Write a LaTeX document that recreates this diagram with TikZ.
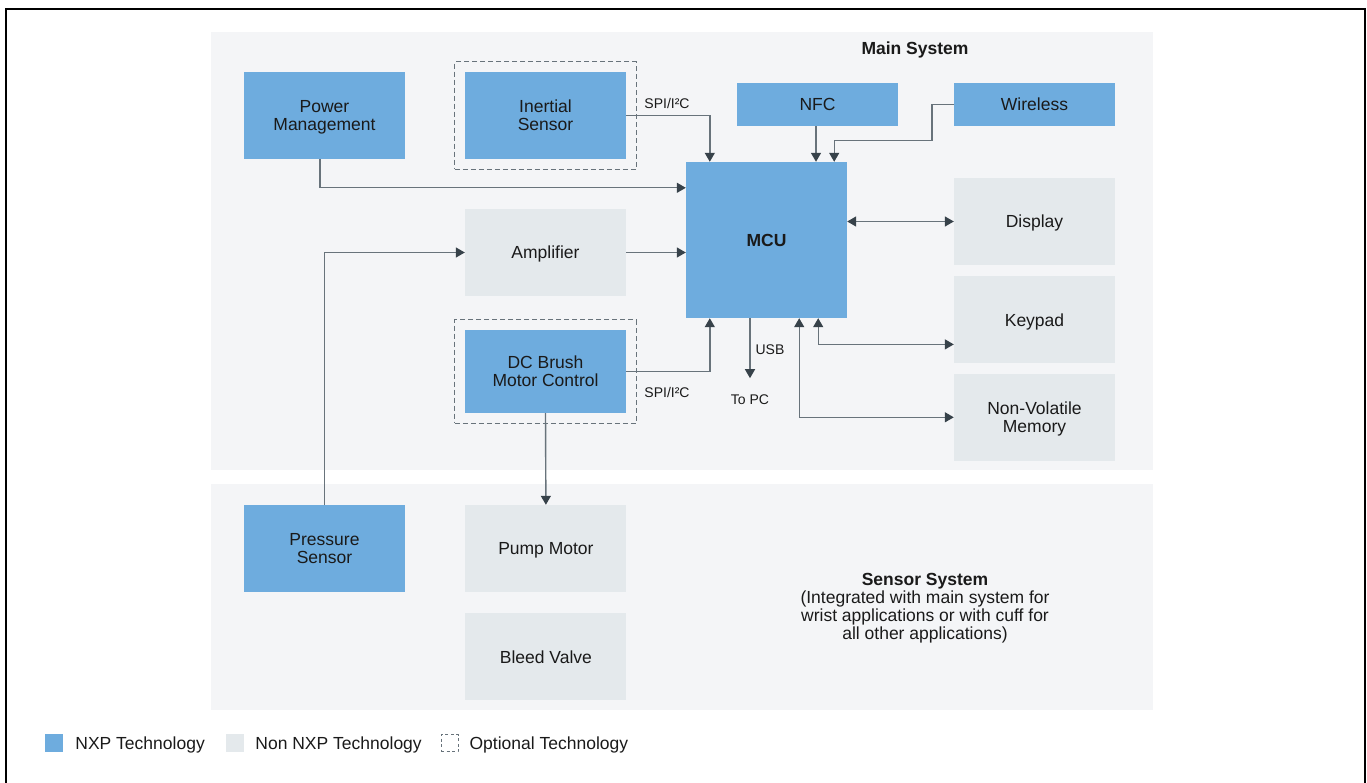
\documentclass[tikz,border=0pt]{standalone}
\usepackage{fontspec}
\setmainfont{Liberation Sans}
\usetikzlibrary{arrows.meta,positioning,fit}
\definecolor{nxpblue}{HTML}{6EACDE}
\definecolor{nonnxp}{HTML}{E4E9EC}
\definecolor{panelgray}{HTML}{F4F5F7}
\definecolor{linkgray}{HTML}{68737B}
\definecolor{tipgray}{HTML}{37424A}
\definecolor{textdark}{HTML}{1A1A1A}

\begin{document}
\begin{tikzpicture}[x=1pt,y=-1pt,font=\fontsize{17.5}{18}\selectfont,text=textdark]
            \tikzstyle{block}=[minimum width=161pt, minimum height=87pt, inner sep=0pt, align=center, text depth=0pt]
            \tikzstyle{nxp}=[block, fill=nxpblue]
            \tikzstyle{nonnxp}=[block, fill=nonnxp]
            \tikzstyle{optional}=[draw=linkgray, thick, dash pattern=on 5pt off 3pt, inner sep=10pt]
            \tikzstyle{link}=[linkgray, line width=1.4pt, -{Triangle[length=9pt,width=10pt,color=tipgray]}]
            \tikzstyle{both}=[link, {Triangle[length=9pt,width=10pt,color=tipgray]}-{Triangle[length=9pt,width=10pt,color=tipgray]}]
            \tikzstyle{small}=[font=\fontsize{14}{16}\selectfont, inner sep=0pt]
            \tikzstyle{legtext}=[inner sep=0pt, anchor=west, text depth=0pt]

            \useasboundingbox (0,0) rectangle (1367,783);
            \draw[line width=2pt] (6,783) -- (6,9) -- (1365,9) -- (1365,783);

            % panels
            \fill[panelgray] (211,32) rectangle (1153,470);
            \fill[panelgray] (211,484) rectangle (1153,710);
            \node[font=\fontsize{17.5}{18}\selectfont\bfseries, text depth=0pt] (mainsys) at (915,48) {Main System};

            % main system
            \node[nxp] (power) at (324.5,115.5) {Power\\Management};
            \node[nxp] (inertial) at (545.5,115.5) {Inertial\\Sensor};
            \node[nxp, minimum height=43pt] (nfc) at (817.5,104.5) {NFC};
            \node[nxp, minimum height=43pt] (wireless) at (1034.5,104.5) {Wireless};
            \node[nxp, minimum height=156pt, font=\fontsize{17.5}{18}\selectfont\bfseries] (mcu) at (766.5,240) {MCU};
            \node[nonnxp] (display) at (1034.5,221.5) {Display};
            \node[nonnxp, below=11pt of display] (keypad) {Keypad};
            \node[nonnxp, below=10pt of keypad] (nvm) {Non-Volatile\\Memory};
            \node[nonnxp] (amp) at (545.5,252.5) {Amplifier};
            \node[nxp, minimum height=83pt] (dcbrush) at (545.5,371.5) {DC Brush\\Motor Control};

            \node[optional, fit=(inertial)] (optinertial) {};
            \node[optional, fit=(dcbrush)] (optdcbrush) {};

            % sensor system
            \node[nxp] (pressure) at (324.5,548.5) {Pressure\\Sensor};
            \node[nonnxp, right=60pt of pressure] (pump) {Pump Motor};
            \node[nonnxp, below=21pt of pump] (bleed) {Bleed Valve};
            \node[align=center, text depth=0pt] (sensorsys) at (925,606.5) {\textbf{Sensor System}\\(Integrated with main system for\\wrist applications or with cuff for\\all other applications)};

            % connections
            \draw[link] (inertial.east) -| ([xshift=24pt]mcu.north west);
            \node[small] (spi1) at (667,103) {SPI/I²C};
            \draw[link] ([xshift=-1.5pt]nfc.south) -- ([xshift=-1.5pt]nfc.south |- mcu.north);
            \draw[link] (wireless.west) -- ++(-22,0) -- ++(0,36) -| ([xshift=-13pt]mcu.north east);
            \draw[link] ([xshift=-4.5pt]power.south) |- ([yshift=-26pt]mcu.north west);
            \draw[link] (amp.east) -- (amp.east -| mcu.west);
            \draw[link] (pressure.north) |- (amp.west);
            \draw[both] (mcu.east |- display.west) -- (display.west);
            \draw[both] ([xshift=-29pt]mcu.south east) |- ([yshift=-24.5pt]keypad.west);
            \draw[both] ([xshift=-48pt]mcu.south east) |- (nvm.west);
            \draw[link] ([xshift=-16.5pt]mcu.south) -- ++(0,60) coordinate (usbend);
            \node[small] (usb) at (770,350) {USB};
            \node[small, below=16pt of usbend] (topc) {To PC};
            \draw[link] (dcbrush.east) -| ([xshift=24pt]mcu.south west);
            \node[small] (spi2) at (667,392) {SPI/I²C};
            \draw[link] (dcbrush.south) -- (pump.north);

            % legend
            \node[fill=nxpblue, minimum size=18pt, inner sep=0pt] (legnxp) at (54,743) {};
            \node[legtext, right=12pt of legnxp] (legnxptext) {NXP Technology};
            \node[fill=nonnxp, minimum size=18pt, inner sep=0pt] (legnon) at (235,743) {};
            \node[legtext, right=11pt of legnon] (legnontext) {Non NXP Technology};
            \node[draw=linkgray, thick, dash pattern=on 3pt off 2.5pt, minimum size=17pt, inner sep=0pt] (legopt) at (449.5,743) {};
            \node[legtext, right=11pt of legopt] (legopttext) {Optional Technology};
        \end{tikzpicture}
\end{document}
